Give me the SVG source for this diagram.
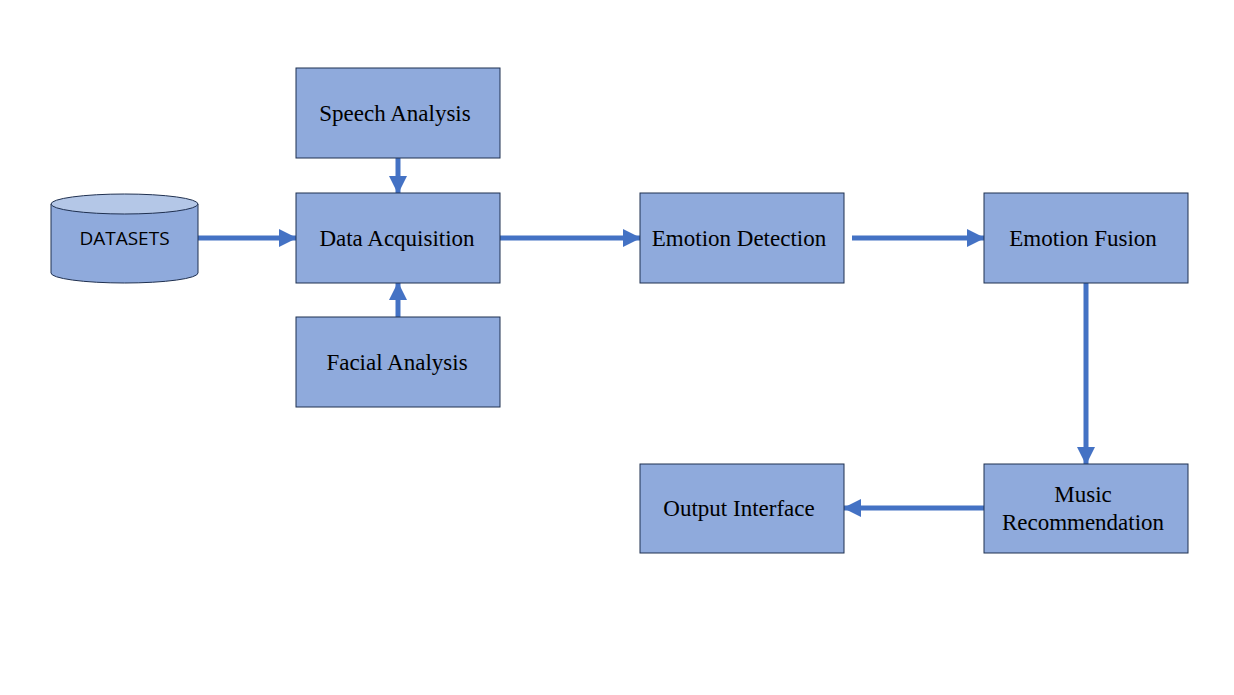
<svg xmlns="http://www.w3.org/2000/svg" width="1234" height="695" viewBox="0 0 1234 695">
<style>
.box{fill:#8FAADC;stroke:#1F3050;stroke-width:1}
.lbl{font-family:"Liberation Serif","Times New Roman",serif;font-size:23px;fill:#000;text-anchor:middle}
.sans{font-family:"Open Sans","Liberation Sans",sans-serif;font-size:19px;fill:#000;text-anchor:middle}
.conn{stroke:#4472C4;stroke-width:5;fill:none}
</style>
<defs>
<marker id="ah" markerUnits="userSpaceOnUse" markerWidth="18" markerHeight="20" viewBox="0 0 18 20" refX="17" refY="10" orient="auto">
<polygon points="0,1 18,10 0,19" fill="#4472C4"/>
</marker>
</defs>
<rect width="1234" height="695" fill="#fff"/>
<g id="connectors">
<line class="conn" x1="198" y1="238" x2="296" y2="238" marker-end="url(#ah)"/>
<line class="conn" x1="500" y1="238" x2="640" y2="238" marker-end="url(#ah)"/>
<line class="conn" x1="852" y1="238" x2="984" y2="238" marker-end="url(#ah)"/>
<line class="conn" x1="398" y1="158" x2="398" y2="193" marker-end="url(#ah)"/>
<line class="conn" x1="398" y1="317" x2="398" y2="283" marker-end="url(#ah)"/>
<line class="conn" x1="1086" y1="283" x2="1086" y2="464" marker-end="url(#ah)"/>
<line class="conn" x1="984" y1="508" x2="844" y2="508" marker-end="url(#ah)"/>
</g>
<g id="datasets">
<path d="M51,204 L51,273 A73.5,10 0 0 0 198,273 L198,204" fill="#8FAADC" stroke="#1F3050" stroke-width="1"/>
<ellipse cx="124.5" cy="204" rx="73.5" ry="10" fill="#B4C7E7" stroke="#1F3050" stroke-width="1"/>
<text class="sans" x="124.5" y="245">DATASETS</text>
</g>
<g id="speech">
<rect class="box" x="296" y="68" width="204" height="90"/>
<text class="lbl" x="395" y="121">Speech Analysis</text>
</g>
<g id="acquisition">
<rect class="box" x="296" y="193" width="204" height="90"/>
<text class="lbl" x="397" y="246">Data Acquisition</text>
</g>
<g id="facial">
<rect class="box" x="296" y="317" width="204" height="90"/>
<text class="lbl" x="397" y="370">Facial Analysis</text>
</g>
<g id="detection">
<rect class="box" x="640" y="193" width="204" height="90"/>
<text class="lbl" x="739" y="246">Emotion Detection</text>
</g>
<g id="fusion">
<rect class="box" x="984" y="193" width="204" height="90"/>
<text class="lbl" x="1083" y="246">Emotion Fusion</text>
</g>
<g id="music">
<rect class="box" x="984" y="464" width="204" height="89"/>
<text class="lbl" x="1083" y="502">Music</text>
<text class="lbl" x="1083" y="530">Recommendation</text>
</g>
<g id="output">
<rect class="box" x="640" y="464" width="204" height="89"/>
<text class="lbl" x="739" y="516">Output Interface</text>
</g>
</svg>
